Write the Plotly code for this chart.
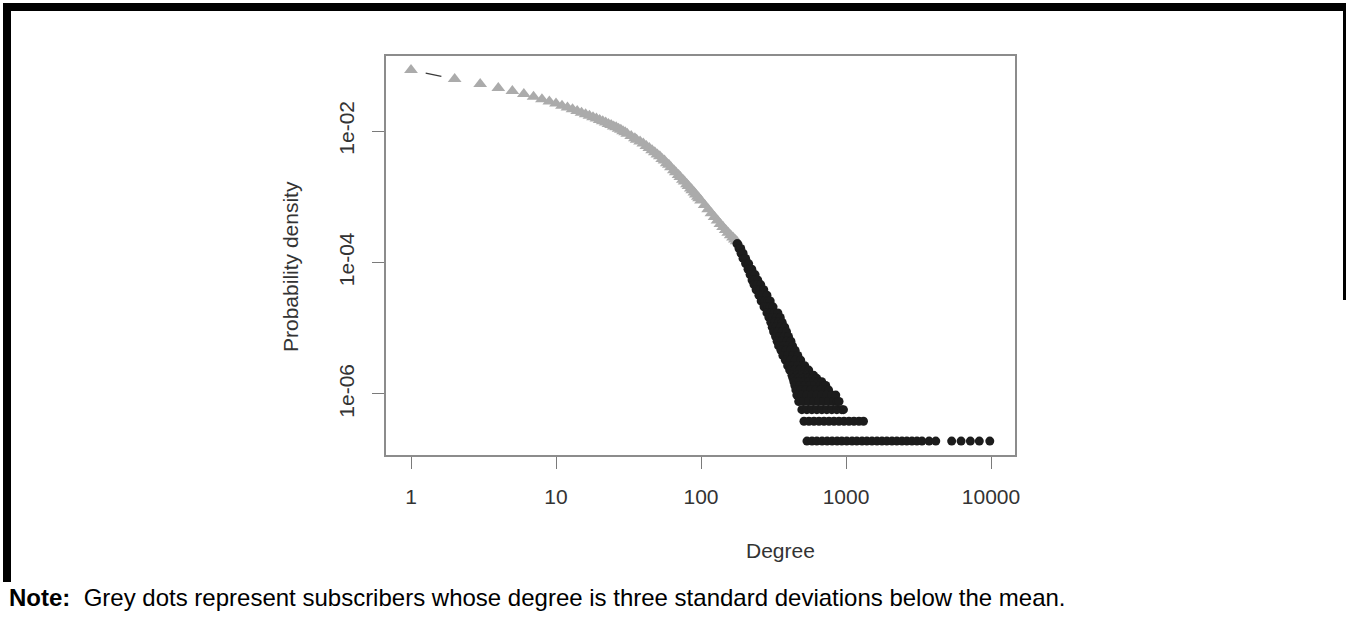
import plotly.graph_objects as go

# ---------------- data ----------------
# grey triangles: degree and probability density
grey_degree = [1, 2, 3, 4, 5, 6, 7, 8, 9, 10, 11, 12, 13, 14, 15, 16, 17, 18, 19, 20,
               21, 22, 23, 24, 25, 26, 27, 28, 29, 30, 31, 33, 35, 36, 38, 40, 42, 44, 46, 48,
               50, 52, 54, 56, 58, 60, 62, 65, 67, 70, 72, 75, 77, 80, 82, 85, 87, 90, 92, 95,
               97, 100, 106, 112, 118, 124, 130, 136, 142, 148, 154, 160, 166, 171, 176]
grey_density = [0.0845, 0.0617, 0.0519, 0.0452, 0.0406, 0.0366, 0.0333, 0.0305, 0.0282, 0.0261,
                0.0243, 0.0228, 0.0214, 0.0201, 0.0190, 0.0180, 0.0171, 0.0162, 0.0155, 0.0147,
                0.01406, 0.01346, 0.01283, 0.01239, 0.01175, 0.01143, 0.01084, 0.01042, 0.00993,
                0.00953, 0.00906, 0.00836, 0.00775, 0.00735, 0.00692, 0.00643, 0.00589, 0.00553,
                0.00508, 0.00476, 0.00438, 0.00414, 0.00375, 0.00356, 0.00324, 0.00306, 0.00282,
                0.00254, 0.00236, 0.00215, 0.00200, 0.00182, 0.00171, 0.00155, 0.00146, 0.00134,
                0.00125, 0.001156, 0.001086, 0.000998, 0.000951, 0.000879, 0.000746, 0.000647,
                0.000562, 0.000492, 0.000434, 0.000385, 0.000347, 0.000311, 0.000284, 0.000259,
                0.000239, 0.000224, 0.000210]

# black dots: number of subscribers sharing a degree, grouped by count level
n_subscribers = 5.2e6
black_count_levels = [1000, 850, 720, 600, 500, 410, 340, 282, 240, 200, 165, 135, 110, 89, 76,
                      64, 54, 46, 39, 33, 28, 24, 20, 17, 14, 12, 10, 9, 8, 7, 6, 5, 4, 3, 2, 1]
black_degrees_by_level = [
    [177, 179], [183, 188], [189, 192, 195], [195, 199, 203], [203, 208, 213],
    [211, 217, 224], [218, 226, 236], [225, 235, 246], [232, 244, 258], [240, 254, 271],
    [251, 267, 285], [260, 275, 290, 300], [272, 287, 300, 314], [285, 302, 320, 339],
    [294, 312, 331, 352], [303, 322, 342, 363], [310, 330, 353, 378], [317, 338, 363, 389],
    [327, 350, 375, 401], [335, 361, 389, 417], [343, 370, 398, 428], [356, 385, 415, 446],
    [367, 396, 430, 465], [382, 413, 447, 487], [396, 428, 463, 500, 519],
    [409, 443, 479, 518, 553], [424, 459, 497, 538, 575, 598], [431, 467, 505, 546, 590, 628],
    [437, 473, 512, 554, 600, 643, 680], [444, 481, 520, 563, 609, 660, 706, 725],
    [451, 488, 528, 572, 619, 670, 725, 758], [458, 496, 537, 581, 629, 681, 737, 798, 850],
    [472, 511, 553, 599, 648, 702, 760, 822, 870, 895],
    [496, 537, 581, 629, 681, 737, 798, 864, 935, 960],
    [513, 555, 601, 651, 705, 763, 826, 894, 968, 1048, 1134, 1228, 1320],
    [538, 583, 629, 684, 741, 802, 868, 935, 1012, 1101, 1187, 1290, 1392, 1511, 1636, 1770,
     1912, 2075, 2241, 2433, 2627, 2850, 3085, 3341, 3742, 4160, 5355, 6218, 7204, 8305, 9810],
]

x_tick_values = [1, 10, 100, 1000, 10000]
x_tick_labels = ["1", "10", "100", "1000", "10000"]
y_tick_values = [1e-6, 1e-4, 1e-2]
y_tick_labels = ["1e-06", "1e-04", "1e-02"]

# ---------------- build ----------------
black_degree, black_density = [], []
for cnt, degs in zip(black_count_levels, black_degrees_by_level):
    for d in degs:
        black_degree.append(d)
        black_density.append(cnt / n_subscribers)

FONT = "Liberation Sans, Arial, Helvetica, sans-serif"
W, H = 1346, 622
L, R, T, B = 386, 1015, 56, 455  # plot box in pixels


def px(x):
    return (x - L) / (R - L)


def py(y):
    return (B - y) / (B - T)


fig = go.Figure()

# type="b"-style connector (only visible gap between the first two points)
fig.add_trace(go.Scatter(
    x=grey_degree, y=grey_density, mode="lines",
    line=dict(color="#3a3a3a", width=1.3, dash="0px,15px,16px,3000px"),
    hoverinfo="skip", showlegend=False))

fig.add_trace(go.Scatter(
    x=grey_degree, y=grey_density, mode="markers",
    marker=dict(symbol="triangle-up", size=12, color="#ababab", line=dict(width=0)),
    showlegend=False))

fig.add_trace(go.Scatter(
    x=black_degree, y=black_density, mode="markers",
    marker=dict(symbol="circle", size=9, color="#1c1c1c", line=dict(width=0)),
    showlegend=False))

axis_common = dict(
    type="log", showgrid=False, zeroline=False,
    showline=True, mirror=True, linecolor="#8c8c8c", linewidth=1.6,
    ticks="outside", ticklen=12, tickwidth=1.3, tickcolor="#7a7a7a",
    tickfont=dict(family=FONT, size=21, color="#333333"),
)

fig.update_xaxes(range=[-0.1724, 4.1655], tickvals=x_tick_values, ticktext=x_tick_labels,
                 ticklabelstandoff=10, **axis_common)
fig.update_yaxes(range=[-6.928, -0.8593], tickvals=y_tick_values, ticktext=y_tick_labels,
                 tickangle=-90, ticklabelstandoff=10, **axis_common)

annotations = [
    dict(text="Degree", x=px(780), y=py(550), xref="paper", yref="paper",
         showarrow=False, xanchor="center", yanchor="middle",
         font=dict(family=FONT, size=21, color="#333333")),
    dict(text="Probability density", x=px(290), y=py(267), xref="paper", yref="paper",
         showarrow=False, xanchor="center", yanchor="middle", textangle=-90,
         font=dict(family=FONT, size=21, color="#333333")),
    dict(text="<b>Note:</b>\u00a0\u00a0Grey dots represent subscribers whose degree is three "
              "standard deviations below the mean.",
         x=px(7), y=py(597), xref="paper", yref="paper",
         showarrow=False, xanchor="left", yanchor="middle",
         font=dict(family=FONT, size=24, color="#000000")),
]

shapes = [
    dict(type="rect", xref="paper", yref="paper", x0=px(3), x1=px(1350), y0=py(11), y1=py(3),
         fillcolor="black", line=dict(width=0), layer="above"),
    dict(type="rect", xref="paper", yref="paper", x0=px(3), x1=px(11), y0=py(582), y1=py(3),
         fillcolor="black", line=dict(width=0), layer="above"),
    dict(type="rect", xref="paper", yref="paper", x0=px(1343), x1=px(1350), y0=py(300), y1=py(3),
         fillcolor="black", line=dict(width=0), layer="above"),
]

fig.update_layout(
    width=W, height=H,
    margin=dict(l=L, r=W - R, t=T, b=H - B, pad=0),
    paper_bgcolor="white", plot_bgcolor="white",
    annotations=annotations, shapes=shapes,
    showlegend=False,
)

fig.write_html("out.html")
